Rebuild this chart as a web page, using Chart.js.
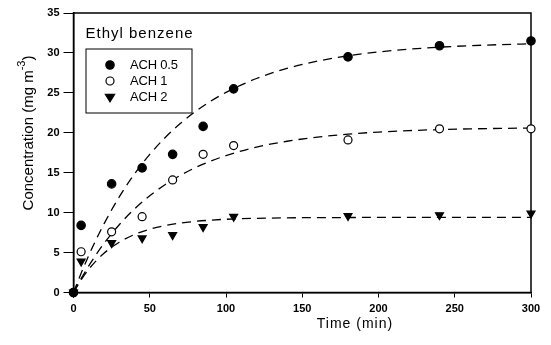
<!DOCTYPE html>
<html>
<head>
<meta charset="utf-8">
<script src="https://cdn.jsdelivr.net/npm/chart.js@4/dist/chart.umd.min.js"></script>
<style>
html,body{margin:0;padding:0;background:#fff;}
#c{display:block;}
</style>
</head>
<body>
<canvas id="c" width="551" height="345"></canvas>
<script>
// ---- data ----
const sampleTimes = [0, 5, 25, 45, 65, 85, 105, 180, 240, 300];
const ach05 = [0, 8.4, 13.6, 15.6, 17.3, 20.8, 25.5, 29.5, 30.9, 31.5];
const ach1  = [0, 5.1, 7.6, 9.5, 14.1, 17.3, 18.4, 19.1, 20.5, 20.5];
const ach2  = [0, 3.9, 6.2, 6.8, 7.2, 8.2, 9.5, 9.6, 9.7, 9.9];

const fitTimes = [0, 5, 10, 15, 20, 30, 40, 50, 60, 70, 80, 90, 100, 120, 140, 160, 180, 200, 220, 240, 260, 280, 300];
const fit05 = [0, 2.41, 4.64, 6.70, 8.60, 11.97, 14.84, 17.29, 19.38, 21.15, 22.67, 23.96, 25.06, 26.80, 28.06, 28.97, 29.64, 30.12, 30.47, 30.72, 30.91, 31.04, 31.14];
const fit1  = [0, 1.74, 3.34, 4.80, 6.14, 8.49, 10.46, 12.11, 13.50, 14.66, 15.64, 16.45, 17.14, 18.20, 18.94, 19.46, 19.83, 20.09, 20.27, 20.40, 20.49, 20.55, 20.59];
const fit2  = [0, 1.59, 2.91, 4.00, 4.92, 6.30, 7.26, 7.92, 8.38, 8.70, 8.91, 9.06, 9.17, 9.29, 9.35, 9.38, 9.39, 9.40, 9.40, 9.40, 9.40, 9.40, 9.40];

const seriesLabels = ['ACH 0.5', 'ACH 1', 'ACH 2'];
const xTicks = [0, 50, 100, 150, 200, 250, 300];
const yTicks = [0, 5, 10, 15, 20, 25, 30, 35];
const panelTitle = 'Ethyl benzene';
const xTitle = 'Time (min)';
const yTitleMain = 'Concentration (mg m';
const yTitleSup = '-3';
const yTitleEnd = ')';

const pts = (xs, ys) => xs.map((x, i) => ({x: x, y: ys[i]}));

const FONT = '"Liberation Sans", Arial, sans-serif';

const markerStyles = [
  {pointStyle: 'circle', backgroundColor: '#000', borderColor: '#000', radius: 4.2, rotation: 0},
  {pointStyle: 'circle', backgroundColor: '#fff', borderColor: '#000', radius: 4.0, rotation: 0},
  {pointStyle: 'triangle', backgroundColor: '#000', borderColor: '#000', radius: 4.6, rotation: 180}
];
const seriesData = [ach05, ach1, ach2];
const fitData = [fit05, fit1, fit2];

const datasets = [];
seriesData.forEach((vals, i) => {
  const m = markerStyles[i];
  datasets.push({
    label: seriesLabels[i],
    data: pts(sampleTimes, vals),
    showLine: false,
    pointStyle: m.pointStyle,
    pointRadius: m.radius,
    pointRotation: m.rotation,
    pointBackgroundColor: m.backgroundColor,
    pointBorderColor: m.borderColor,
    pointBorderWidth: 1.2,
    clip: false,
    order: 0
  });
});
fitData.forEach((vals, i) => {
  datasets.push({
    label: seriesLabels[i] + ' fit',
    data: pts(fitTimes, vals),
    showLine: true,
    borderColor: '#000',
    borderWidth: 1.3,
    borderDash: [9, 6],
    pointRadius: 0,
    tension: 0.4,
    cubicInterpolationMode: 'monotone',
    clip: false,
    order: 1
  });
});

const decor = {
  id: 'decor',
  beforeDatasetsDraw(chart) {
    const {ctx, chartArea: a} = chart;
    ctx.save();
    ctx.strokeStyle = '#000';
    ctx.lineWidth = 1.5;
    ctx.strokeRect(a.left, a.top, a.right - a.left, a.bottom - a.top);
    ctx.restore();
  },
  afterDraw(chart) {
    const {ctx, chartArea: a} = chart;
    ctx.save();
    ctx.fillStyle = '#000';
    ctx.strokeStyle = '#000';
    // panel title
    ctx.font = '15px ' + FONT;
    ctx.letterSpacing = '1px';
    ctx.textBaseline = 'alphabetic';
    ctx.textAlign = 'left';
    ctx.fillText(panelTitle, a.left + 12, a.top + 25);
    ctx.letterSpacing = '0px';
    // legend box
    const bx = a.left + 12.5, by = a.top + 36, bw = 106, bh = 64;
    ctx.lineWidth = 1;
    ctx.strokeRect(bx, by, bw, bh);
    ctx.font = '13px ' + FONT;
    ctx.letterSpacing = '-0.2px';
    ctx.textBaseline = 'middle';
    for (let i = 0; i < 3; i++) {
      const ds = chart.data.datasets[i];
      const cy = by + 16 + i * 16;
      const cx = bx + 24;
      ctx.fillStyle = ds.pointBackgroundColor;
      ctx.strokeStyle = ds.pointBorderColor;
      ctx.lineWidth = ds.pointBorderWidth;
      ctx.beginPath();
      if (ds.pointStyle === 'circle') {
        ctx.arc(cx, cy, ds.pointRadius, 0, Math.PI * 2);
      } else {
        const r = ds.pointRadius;
        ctx.moveTo(cx - r, cy - r * 0.55);
        ctx.lineTo(cx + r, cy - r * 0.55);
        ctx.lineTo(cx, cy + r * 1.05);
        ctx.closePath();
      }
      ctx.fill();
      ctx.stroke();
      ctx.fillStyle = '#000';
      ctx.fillText(ds.label, bx + 44, cy + 0.5);
    }
    ctx.letterSpacing = '0px';
    // x title
    ctx.font = '14px ' + FONT;
    ctx.letterSpacing = '1px';
    ctx.textAlign = 'center';
    ctx.textBaseline = 'middle';
    ctx.fillText(xTitle, 355, 324);
    ctx.letterSpacing = '0px';
    // y title (rotated, with superscript)
    ctx.translate(29, 133);
    ctx.rotate(-Math.PI / 2);
    ctx.font = '15px ' + FONT;
    const w1 = ctx.measureText(yTitleMain).width;
    ctx.font = '11px ' + FONT;
    const w2 = ctx.measureText(yTitleSup).width;
    ctx.font = '15px ' + FONT;
    const w3 = ctx.measureText(yTitleEnd).width;
    const total = w1 + w2 + w3;
    let x0 = -total / 2;
    ctx.textAlign = 'left';
    ctx.textBaseline = 'middle';
    ctx.fillText(yTitleMain, x0, 0);
    ctx.font = '11px ' + FONT;
    ctx.fillText(yTitleSup, x0 + w1, -7);
    ctx.font = '15px ' + FONT;
    ctx.fillText(yTitleEnd, x0 + w1 + w2, 0);
    ctx.restore();
  }
};

new Chart(document.getElementById('c'), {
  type: 'scatter',
  data: {datasets: datasets},
  options: {
    responsive: false,
    devicePixelRatio: 1,
    animation: false,
    events: [],
    layout: {padding: {top: 13, right: 20, left: 0, bottom: 0}},
    plugins: {legend: {display: false}, tooltip: {enabled: false}, title: {display: false}},
    scales: {
      x: {
        type: 'linear', min: 0, max: 300,
        afterBuildTicks(s) { s.ticks = xTicks.map(v => ({value: v})); },
        afterFit(s) { s.height = 52.5; },
        ticks: {color: '#000', padding: 5, maxRotation: 0, font: {family: FONT, size: 11, weight: 'bold'}},
        grid: {display: true, drawOnChartArea: false, drawTicks: true, tickLength: 5, color: '#000', lineWidth: 1},
        border: {display: true, color: '#000', width: 1.5}
      },
      y: {
        type: 'linear', min: 0, max: 35,
        afterBuildTicks(s) { s.ticks = yTicks.map(v => ({value: v})); },
        afterFit(s) { s.width = 73.5; },
        ticks: {color: '#000', padding: 4, font: {family: FONT, size: 11, weight: 'bold'}},
        grid: {display: true, drawOnChartArea: false, drawTicks: true, tickLength: 10, color: '#000', lineWidth: 1},
        border: {display: true, color: '#000', width: 1.5}
      }
    }
  },
  plugins: [decor]
});
</script>
</body>
</html>
